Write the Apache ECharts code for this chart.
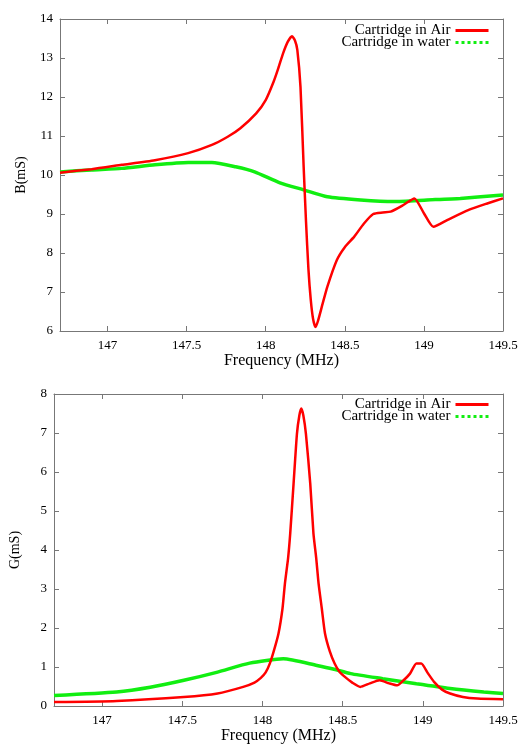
<!DOCTYPE html>
<html>
<head>
<meta charset="utf-8">
<script src="https://cdn.jsdelivr.net/npm/echarts@6/dist/echarts.min.js"></script>
<style>html,body{margin:0;padding:0;background:#fff;}#c{width:528px;height:747px;}</style>
</head>
<body>
<div id="c"></div>
<script>
// ---- Data ----
const xTicks = [147, 147.5, 148, 148.5, 149, 149.5];
const seriesNames = ['Cartridge in Air', 'Cartridge in water'];

// B (susceptance), Cartridge in Air
const bAirFreq = [146.70,146.90,147.09,147.30,147.51,147.66,147.76,147.84,147.94,148.00,148.05,148.08,148.11,148.14,148.166,148.185,148.20,148.22,148.24,148.255,148.27,148.285,148.30,148.315,148.33,148.36,148.39,148.45,148.50,148.56,148.62,148.68,148.74,148.79,148.87,148.94,149.00,149.06,149.15,149.28,149.40,149.50];
const bAirVal  = [10.06,10.15,10.26,10.38,10.56,10.77,10.98,11.20,11.58,11.92,12.39,12.74,13.12,13.42,13.56,13.45,13.21,12.26,10.21,8.80,7.60,6.80,6.30,6.10,6.25,6.70,7.14,7.82,8.15,8.42,8.75,9.00,9.04,9.06,9.23,9.40,9.02,8.67,8.85,9.10,9.27,9.40];
// B, Cartridge in water
const bWaterFreq = [146.70,146.90,147.09,147.30,147.51,147.66,147.81,147.93,148.09,148.24,148.39,148.60,148.81,149.02,149.23,149.50];
const bWaterVal  = [10.08,10.13,10.17,10.26,10.32,10.32,10.21,10.08,9.80,9.62,9.44,9.36,9.32,9.36,9.40,9.49];

// G (conductance), Cartridge in Air
const gAirFreq = [146.70,147.09,147.51,147.72,147.88,147.95,147.99,148.02,148.045,148.07,148.10,148.125,148.14,148.16,148.173,148.194,148.215,148.23,148.242,148.255,148.271,148.298,148.318,148.335,148.35,148.37,148.39,148.42,148.45,148.48,148.516,148.56,148.61,148.67,148.73,148.79,148.84,148.88,148.92,148.96,148.99,149.03,149.07,149.12,149.17,149.25,149.34,149.50];
const gAirVal  = [0.10,0.13,0.23,0.32,0.49,0.60,0.72,0.86,1.08,1.40,1.86,2.50,3.14,3.80,4.42,5.70,6.98,7.45,7.63,7.45,6.98,5.70,4.42,3.80,3.14,2.50,1.86,1.40,1.09,0.88,0.74,0.60,0.49,0.58,0.66,0.58,0.53,0.66,0.83,1.09,1.09,0.85,0.62,0.42,0.32,0.23,0.19,0.17];
// G, Cartridge in water
const gWaterFreq = [146.70,147.09,147.30,147.51,147.72,147.92,148.13,148.34,148.44,148.55,148.75,148.96,149.17,149.38,149.50];
const gWaterVal  = [0.27,0.36,0.48,0.66,0.87,1.10,1.21,1.04,0.95,0.83,0.70,0.57,0.45,0.36,0.32];

const pairs = (xs, ys) => xs.map((x, i) => [x, ys[i]]);

// ---- Styling ----
const FONT = 'Liberation Serif';
const AXIS_COLOR = '#777';
const RED = '#ff0000';
const GREEN = '#11ee11';

function xAxisMain(grid, name, nameGap) {
  return {
    type: 'value', gridIndex: grid, position: 'bottom', min: 146.7, max: 149.5,
    name: name, nameLocation: 'middle', nameGap: nameGap,
    nameTextStyle: { fontFamily: FONT, fontSize: 16, color: '#000' },
    axisLine: { show: true, onZero: false, lineStyle: { color: AXIS_COLOR, width: 1 } },
    axisTick: { show: true, inside: true, length: 5, customValues: xTicks, lineStyle: { color: AXIS_COLOR } },
    axisLabel: { show: true, customValues: xTicks, formatter: v => String(v), fontFamily: FONT, fontSize: 13, color: '#000', margin: 8 },
    splitLine: { show: false }
  };
}
function xAxisMirror(grid) {
  return {
    type: 'value', gridIndex: grid, position: 'top', min: 146.7, max: 149.5,
    axisLine: { show: true, onZero: false, lineStyle: { color: AXIS_COLOR, width: 1 } },
    axisTick: { show: true, inside: true, length: 5, customValues: xTicks, lineStyle: { color: AXIS_COLOR } },
    axisLabel: { show: false },
    splitLine: { show: false }
  };
}
function yAxisMain(grid, min, max, name) {
  return {
    type: 'value', gridIndex: grid, position: 'left', min: min, max: max, interval: 1,
    name: name, nameLocation: 'middle', nameGap: 32, nameRotate: 90,
    nameTextStyle: { fontFamily: FONT, fontSize: 14, color: '#000' },
    axisLine: { show: true, onZero: false, lineStyle: { color: AXIS_COLOR, width: 1 } },
    axisTick: { show: true, inside: true, length: 5, lineStyle: { color: AXIS_COLOR } },
    axisLabel: { show: true, fontFamily: FONT, fontSize: 13, color: '#000', margin: 7 },
    splitLine: { show: false }
  };
}
function yAxisMirror(grid, min, max) {
  return {
    type: 'value', gridIndex: grid, position: 'right', min: min, max: max, interval: 1,
    axisLine: { show: true, onZero: false, lineStyle: { color: AXIS_COLOR, width: 1 } },
    axisTick: { show: true, inside: true, length: 5, lineStyle: { color: AXIS_COLOR } },
    axisLabel: { show: false },
    splitLine: { show: false }
  };
}
function legendItem(name, top, dotted, color) {
  return {
    data: [{ name: name }],
    orient: 'vertical', right: 38, top: top, padding: 0,
    align: 'right', itemWidth: 33, itemHeight: 12, itemGap: 0,
    selectedMode: false,
    textStyle: { fontFamily: FONT, fontSize: 15, color: '#000', padding: [0, 0, 0, 0] },
    lineStyle: { width: 3, color: color, type: dotted ? 'dotted' : 'solid' },
    itemStyle: { opacity: 0 }
  };
}
function lineSeries(name, xAxisIndex, yAxisIndex, data, color, width) {
  return {
    type: 'line', name: name, xAxisIndex: xAxisIndex, yAxisIndex: yAxisIndex,
    data: data, symbol: 'none', smooth: 0.2,
    lineStyle: { color: color, width: width }, itemStyle: { color: color },
    clip: true, silent: true
  };
}

const option = {
  animation: false,
  backgroundColor: '#fff',
  grid: [
    { left: 60, right: 25, top: 19, height: 312 },
    { left: 53, right: 25, top: 394, height: 312 }
  ],
  xAxis: [
    xAxisMain(0, 'Frequency (MHz)', 22),
    xAxisMirror(0),
    xAxisMain(1, 'Frequency (MHz)', 22),
    xAxisMirror(1)
  ],
  yAxis: [
    yAxisMain(0, 6, 14, 'B(mS)'),
    yAxisMirror(0, 6, 14),
    yAxisMain(1, 0, 8, 'G(mS)'),
    yAxisMirror(1, 0, 8)
  ],
  legend: [
    legendItem(seriesNames[0], 23, false, RED),
    legendItem(seriesNames[1], 35, true, GREEN),
    legendItem(seriesNames[0], 397, false, RED),
    legendItem(seriesNames[1], 409, true, GREEN)
  ],
  series: [
    lineSeries(seriesNames[1], 0, 0, pairs(bWaterFreq, bWaterVal), GREEN, 3.5),
    lineSeries(seriesNames[0], 0, 0, pairs(bAirFreq, bAirVal), RED, 2.5),
    lineSeries(seriesNames[1], 2, 2, pairs(gWaterFreq, gWaterVal), GREEN, 3.5),
    lineSeries(seriesNames[0], 2, 2, pairs(gAirFreq, gAirVal), RED, 2.5)
  ]
};

const chart = echarts.init(document.getElementById('c'), null, { renderer: 'canvas' });
chart.setOption(option);
</script>
</body>
</html>
